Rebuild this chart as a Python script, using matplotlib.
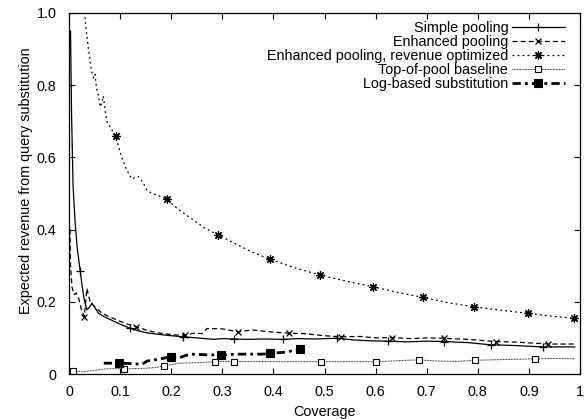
import matplotlib
matplotlib.use('Agg')
import matplotlib.pyplot as plt
from matplotlib.lines import Line2D

plt.rcParams['font.family'] = ['Liberation Sans', 'DejaVu Sans']
plt.rcParams['font.size'] = 10.4

# Simple pooling
sp_x = [0.003, 0.005, 0.008, 0.012, 0.016, 0.022, 0.026, 0.030, 0.035, 0.040, 0.045, 0.050, 0.058,
        0.070, 0.085, 0.100, 0.119, 0.135, 0.152, 0.180, 0.200, 0.224, 0.250, 0.282, 0.300, 0.322,
        0.350, 0.380, 0.418, 0.450, 0.480, 0.525, 0.560, 0.590, 0.624, 0.660, 0.700, 0.733, 0.780,
        0.825, 0.870, 0.928, 0.990]
sp_y = [0.95, 0.72, 0.52, 0.42, 0.35, 0.285, 0.24, 0.205, 0.178, 0.185, 0.196, 0.185, 0.168,
        0.158, 0.148, 0.138, 0.127, 0.120, 0.114, 0.109, 0.106, 0.103, 0.100, 0.096, 0.098, 0.097,
        0.096, 0.097, 0.096, 0.098, 0.097, 0.099, 0.094, 0.092, 0.091, 0.089, 0.091, 0.090, 0.087,
        0.081, 0.079, 0.075, 0.075]
sp_marks = [0.022, 0.119, 0.224, 0.322, 0.418, 0.525, 0.624, 0.733, 0.825, 0.928]

# Enhanced pooling
ep_x = [0.002, 0.003, 0.006, 0.010, 0.014, 0.019, 0.024, 0.030, 0.035, 0.042, 0.048, 0.055, 0.065,
        0.080, 0.100, 0.115, 0.132, 0.150, 0.170, 0.190, 0.210, 0.227, 0.245, 0.260, 0.270, 0.300,
        0.331, 0.360, 0.390, 0.431, 0.460, 0.500, 0.532, 0.570, 0.600, 0.633, 0.670, 0.700, 0.733,
        0.780, 0.835, 0.880, 0.938, 0.990]
ep_y = [0.40, 0.30, 0.24, 0.22, 0.225, 0.21, 0.18, 0.159, 0.237, 0.196, 0.19, 0.18, 0.168,
        0.158, 0.146, 0.138, 0.131, 0.122, 0.115, 0.111, 0.108, 0.108, 0.113, 0.112, 0.126, 0.125,
        0.117, 0.122, 0.117, 0.113, 0.112, 0.106, 0.103, 0.104, 0.100, 0.101, 0.098, 0.100, 0.099,
        0.096, 0.090, 0.088, 0.083, 0.083]
ep_marks = [0.030, 0.132, 0.227, 0.331, 0.431, 0.532, 0.633, 0.733, 0.835, 0.938]

# Enhanced pooling, revenue optimized
ro_x = [0.029, 0.033, 0.038, 0.044, 0.048, 0.051, 0.054, 0.058, 0.061, 0.064, 0.067, 0.074, 0.082,
        0.091, 0.103, 0.113, 0.123, 0.130, 0.136, 0.145, 0.152, 0.162, 0.172, 0.191, 0.215, 0.240,
        0.265, 0.292, 0.320, 0.355, 0.393, 0.440, 0.492, 0.540, 0.594, 0.640, 0.693, 0.740, 0.792,
        0.850, 0.898, 0.940, 0.989]
ro_y = [1.03, 0.96, 0.90, 0.84, 0.82, 0.83, 0.79, 0.77, 0.74, 0.75, 0.77, 0.70, 0.68,
        0.66, 0.60, 0.565, 0.54, 0.545, 0.547, 0.53, 0.51, 0.50, 0.496, 0.484, 0.455, 0.43,
        0.405, 0.385, 0.365, 0.34, 0.318, 0.295, 0.274, 0.258, 0.242, 0.227, 0.212, 0.198, 0.186,
        0.176, 0.168, 0.161, 0.154]
ro_marks = [0.091, 0.191, 0.292, 0.393, 0.492, 0.594, 0.693, 0.792, 0.898, 0.989]

# Top-of-pool baseline
tp_x = [0.008, 0.025, 0.050, 0.071, 0.090, 0.107, 0.130, 0.150, 0.170, 0.185, 0.200, 0.215, 0.247,
        0.286, 0.300, 0.322, 0.360, 0.400, 0.450, 0.494, 0.550, 0.601, 0.630, 0.660, 0.684, 0.720,
        0.760, 0.794, 0.850, 0.911, 0.950, 0.990]
tp_y = [0.009, 0.006, 0.010, 0.014, 0.015, 0.014, 0.015, 0.016, 0.018, 0.022, 0.026, 0.030, 0.031,
        0.034, 0.035, 0.034, 0.035, 0.034, 0.034, 0.034, 0.034, 0.034, 0.036, 0.038, 0.039, 0.036,
        0.035, 0.038, 0.040, 0.042, 0.043, 0.042]
tp_marks = [0.008, 0.107, 0.185, 0.286, 0.322, 0.494, 0.601, 0.684, 0.794, 0.911]

# Log-based substitution
lb_x = [0.068, 0.097, 0.120, 0.143, 0.153, 0.176, 0.200, 0.215, 0.237, 0.273, 0.298, 0.330, 0.378,
        0.393, 0.420, 0.453]
lb_y = [0.030, 0.030, 0.029, 0.027, 0.036, 0.041, 0.048, 0.045, 0.055, 0.053, 0.053, 0.055, 0.055,
        0.057, 0.060, 0.068]
lb_marks = [0.097, 0.200, 0.298, 0.393, 0.453]

labels = ['Simple pooling', 'Enhanced pooling', 'Enhanced pooling, revenue optimized',
          'Top-of-pool baseline', 'Log-based substitution']
x_ticks = [0, 0.1, 0.2, 0.3, 0.4, 0.5, 0.6, 0.7, 0.8, 0.9, 1]
x_ticklabels = ['0', '0.1', '0.2', '0.3', '0.4', '0.5', '0.6', '0.7', '0.8', '0.9', '1']
y_ticks = [0, 0.2, 0.4, 0.6, 0.8, 1.0]
y_ticklabels = ['0', '0.2', '0.4', '0.6', '0.8', '1.0']

series = [
    (sp_x, sp_y, sp_marks, dict(ls='-', lw=0.9, marker='+', ms=6, mew=0.9)),
    (ep_x, ep_y, ep_marks, dict(ls=(0, (4, 2.5)), lw=0.9, marker='x', ms=5, mew=0.9)),
    (ro_x, ro_y, ro_marks, dict(ls=(0, (1.5, 2.5)), lw=0.9, marker=(8, 2, 0), ms=6, mew=0.9)),
    (tp_x, tp_y, tp_marks, dict(ls=(0, (0.8, 0.8)), lw=0.7, marker='s', ms=4.5, mew=0.8, mfc='white')),
    (lb_x, lb_y, lb_marks, dict(ls=(0, (3, 1.5, 1, 1.5)), lw=2.0, marker='s', ms=5.5, mew=0.8)),
]

fig = plt.figure(figsize=(5.86, 4.19), dpi=100)
ax = fig.add_axes([69 / 586, 45 / 419, 511 / 586, 361 / 419])

handles = []
for (xs, ys, marks, st), lab in zip(series, labels):
    idx = [xs.index(m) for m in marks]
    ax.plot(xs, ys, color='black', markevery=idx, clip_on=True, **st)
    handles.append(Line2D([], [], color='black', **st))

ax.set_xlim(0, 1)
ax.set_ylim(0, 1)
ax.set_xticks(x_ticks)
ax.set_xticklabels(x_ticklabels)
ax.set_yticks(y_ticks)
ax.set_yticklabels(y_ticklabels)
ax.tick_params(direction='in', length=4.2, width=0.8, top=True, right=True)
ax.tick_params(axis='x', pad=8)
ax.tick_params(axis='y', pad=9)
for s in ax.spines.values():
    s.set_linewidth(0.9)

ax.set_xlabel('Coverage', labelpad=4)
fig.text(26 / 586, 1 - 181 / 419, 'Expected revenue from query substitution',
         rotation=90, ha='center', va='center')

ax.legend(handles, labels, loc='upper right', bbox_to_anchor=(0.971, 0.978), frameon=False,
          markerfirst=False, numpoints=1, handlelength=3.7, handletextpad=0.25,
          labelspacing=0.0, borderpad=0, borderaxespad=0)

fig.savefig('out.png', dpi=100)
